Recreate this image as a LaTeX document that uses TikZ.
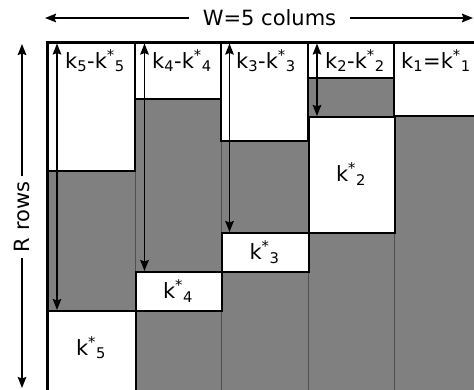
\documentclass[tikz,border=0pt]{standalone}
\usepackage{fontspec}
\setmainfont{DejaVu Sans}
\usetikzlibrary{arrows.meta}
\definecolor{fillgray}{HTML}{808080}
\definecolor{sepgray}{HTML}{505050}
\begin{document}
\begin{tikzpicture}[x=1pt,y=-1pt,
  lbl/.style={font=\fontsize{21}{24}\selectfont, inner sep=0pt},
  wbox/.style={draw=black, line width=2.2pt, fill=white},
  lowbox/.style={wbox, inner sep=0pt, anchor=north west},
  sep/.style={draw=sepgray, line width=0.7pt},
  dbl/.style={line width=1.8pt, {Stealth[length=11pt,width=8.5pt,inset=1.5pt]}-{Stealth[length=11pt,width=8.5pt,inset=1.5pt]}},
  single/.style={line width=1.8pt, -{Stealth[length=11pt,width=8.5pt,inset=1.5pt]}}]
\useasboundingbox (0,0) rectangle (474,389);
\clip (0,0) rectangle (474,389);
% gray background of the grid
\fill[fillgray] (47,42) rectangle (490,400);
\foreach \x in {135,221,308,394} \draw[sep] (\x,42) -- (\x,400);
% upper white boxes
\draw[wbox] (47,42) rectangle (135,171);
\draw[wbox] (135,42) rectangle (221,99);
\draw[wbox] (221,42) rectangle (308,141);
\draw[wbox] (308,42) rectangle (394,78);
\draw[wbox] (394,42) rectangle (490,116);
% lower white boxes
\node[lowbox, minimum width=86pt, minimum height=116pt] (b2) at (308,116) {};
\node[lowbox, minimum width=87pt, minimum height=39pt] (b3) at (221,232) {};
\node[lowbox, minimum width=86pt, minimum height=39pt] (b4) at (135,271) {};
\node[lowbox, minimum width=88pt, minimum height=90pt] (b5) at (47,310) {};
\draw[draw=black, line width=2.2pt] (394,116) -- (490,116);
% outer border
\draw[line width=3pt] (47,400) -- (47,42) -- (490,42);
% center labels
\node[lbl] (s2) at (351,174) {k\textsuperscript{*}\textsubscript{2}};
\node[lbl] (s3) at (264.5,252) {k\textsuperscript{*}\textsubscript{3}};
\node[lbl] (s4) at (178,291) {k\textsuperscript{*}\textsubscript{4}};
\node[lbl] (s5) at (91,348) {k\textsuperscript{*}\textsubscript{5}};
% top labels
\node[lbl, anchor=base west] (l5) at (65,68) {k\textsubscript{5}-k\textsuperscript{*}\textsubscript{5}};
\node[lbl, anchor=base west] (l4) at (152,68) {k\textsubscript{4}-k\textsuperscript{*}\textsubscript{4}};
\node[lbl, anchor=base west] (l3) at (236,68) {k\textsubscript{3}-k\textsuperscript{*}\textsubscript{3}};
\node[lbl, anchor=base west] (l2) at (325,68) {k\textsubscript{2}-k\textsuperscript{*}\textsubscript{2}};
\node[lbl, anchor=base west] (l1) at (401,68) {k\textsubscript{1}=k\textsuperscript{*}\textsubscript{1}};
% double arrows
\coordinate (t5) at (57,43.5);
\coordinate (t4) at (144.5,43.5);
\coordinate (t3) at (229.5,43.5);
\coordinate (t2) at (317,43.5);
\draw[dbl] (t5) -- (t5 |- b5.north);
\draw[dbl] (t4) -- (t4 |- b4.north);
\draw[dbl] (t3) -- (t3 |- b3.north);
\draw[dbl] (t2) -- (t2 |- b2.north);
% dimension arrows
\node[lbl, inner xsep=14pt] (W) at (269.5,18) {W=5 colums};
\coordinate (wl) at (45,18);
\coordinate (wr) at (473,18);
\draw[single] (W) -- (wl);
\draw[single] (W) -- (wr);
\node[lbl, rotate=90, inner xsep=6pt] (R) at (22,217) {R rows};
\coordinate (rt) at (22,44);
\coordinate (rb) at (22,388);
\draw[single] (R) -- (rt);
\draw[single] (R) -- (rb);
\end{tikzpicture}
\end{document}
